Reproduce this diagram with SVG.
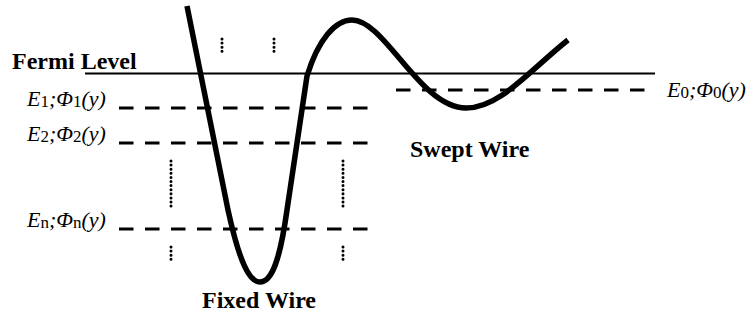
<svg xmlns="http://www.w3.org/2000/svg" width="748" height="320" viewBox="0 0 748 320">
<style>
.lbl{font-family:"Liberation Serif","DejaVu Serif",serif;font-size:22px;font-style:italic;fill:#000}
.sub{font-size:17px;font-style:normal}
.bold{font-family:"Liberation Serif",serif;font-size:24px;font-weight:bold;fill:#000}
.dash{stroke:#000;stroke-width:3;stroke-dasharray:14.5 11.5;fill:none}
.dot{stroke:#000;stroke-width:3;stroke-dasharray:0 4.1;stroke-linecap:round;fill:none}
.wire{stroke:#000;stroke-width:5.5;fill:none;stroke-linejoin:round}
</style>
<rect width="748" height="320" fill="#fff"/>
<g id="fermi">
<line x1="85" y1="73.5" x2="655" y2="73.5" stroke="#000" stroke-width="2.2"/>
<text class="bold" x="12" y="69">Fermi Level</text>
</g>
<g id="levels">
<line class="dash" x1="119" y1="108" x2="374" y2="108"/>
<line class="dash" x1="119" y1="143" x2="374" y2="143"/>
<line class="dash" x1="119" y1="229" x2="374" y2="229"/>
<line class="dash" x1="396" y1="90" x2="652" y2="90"/>
<text class="lbl" x="27" y="106">E<tspan class="sub" dy="1">1</tspan><tspan dy="-1">;Φ</tspan><tspan class="sub" dy="1">1</tspan><tspan dy="-1">(y)</tspan></text>
<text class="lbl" x="27" y="141">E<tspan class="sub" dy="1">2</tspan><tspan dy="-1">;Φ</tspan><tspan class="sub" dy="1">2</tspan><tspan dy="-1">(y)</tspan></text>
<text class="lbl" x="27" y="227">E<tspan class="sub" dy="1">n</tspan><tspan dy="-1">;Φ</tspan><tspan class="sub" dy="1">n</tspan><tspan dy="-1">(y)</tspan></text>
<text class="lbl" x="667" y="97">E<tspan class="sub" dy="1">0</tspan><tspan dy="-1">;Φ</tspan><tspan class="sub" dy="1">0</tspan><tspan dy="-1">(y)</tspan></text>
</g>
<g id="dots">
<line class="dot" x1="171" y1="161" x2="171" y2="210"/>
<line class="dot" x1="343" y1="161" x2="343" y2="210"/>
<line class="dot" x1="171" y1="247" x2="171" y2="260"/>
<line class="dot" x1="343" y1="247" x2="343" y2="260"/>
<line class="dot" x1="222" y1="39" x2="222" y2="52"/>
<line class="dot" x1="274" y1="39" x2="274" y2="52"/>
</g>
<g id="wire">
<path class="wire" d="M187,6 L228,210 C240,265 250,282 260,282 C272,282 280,260 287,210 L307,76 C318,40 335,20 352,20 C385,20 420,108 466,108 C500,108 530,70 568,40"/>
</g>
<g id="names">
<text class="bold" x="410" y="157">Swept Wire</text>
<text class="bold" x="202" y="308">Fixed Wire</text>
</g>
</svg>
